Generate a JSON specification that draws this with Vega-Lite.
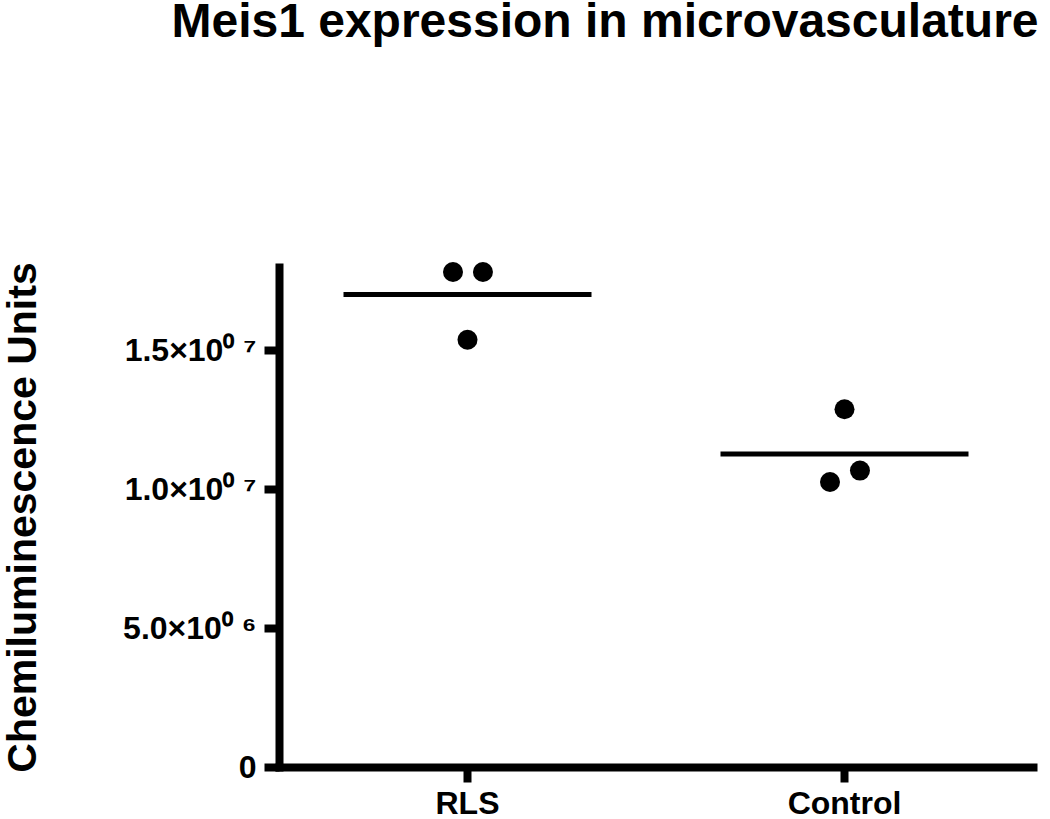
{
  "$schema": "https://vega.github.io/schema/vega-lite/v6.json",
  "width": 754,
  "height": 500,
  "autosize": {"type": "none"},
  "padding": {"left": 279, "top": 267, "right": 17, "bottom": 52},
  "background": "white",
  "title": {
    "text": "Meis1 expression in microvasculature",
    "font": "Liberation Sans",
    "fontSize": 48,
    "fontWeight": "bold",
    "color": "black",
    "anchor": "middle",
    "frame": "group",
    "baseline": "alphabetic",
    "offset": 177,
    "dx": -51
  },
  "config": {
    "view": {"stroke": null},
    "font": "Liberation Sans",
    "axis": {
      "grid": false,
      "domainColor": "black",
      "domainWidth": 8,
      "domainCap": "square",
      "tickColor": "black",
      "tickWidth": 8,
      "tickSize": 15,
      "labelColor": "black",
      "labelFont": "Liberation Sans",
      "labelFontSize": 32,
      "labelFontWeight": "bold",
      "titleColor": "black",
      "titleFont": "Liberation Sans",
      "titleFontWeight": "bold"
    }
  },
  "data": {
    "values": [
      {"group": "RLS", "value": 17820000, "jitter": -0.077},
      {"group": "RLS", "value": 17820000, "jitter": 0.082},
      {"group": "RLS", "value": 15380000, "jitter": 0.0},
      {"group": "Control", "value": 12880000, "jitter": 0.0},
      {"group": "Control", "value": 10260000, "jitter": -0.077},
      {"group": "Control", "value": 10670000, "jitter": 0.082}
    ]
  },
  "encoding": {
    "x": {
      "field": "group",
      "type": "nominal",
      "sort": ["RLS", "Control"],
      "scale": {"type": "band", "paddingInner": 0, "paddingOuter": 0},
      "axis": {"title": null, "labelAngle": 0, "labelPadding": 6}
    }
  },
  "layer": [
    {
      "mark": {"type": "point", "filled": true, "shape": "circle", "size": 400, "color": "black", "opacity": 1},
      "encoding": {
        "xOffset": {"field": "jitter", "type": "quantitative", "scale": {"domain": [-1, 1], "nice": false, "zero": false}},
        "y": {
          "field": "value",
          "type": "quantitative",
          "scale": {"domain": [0, 18000000], "nice": false},
          "axis": {
            "title": "Chemiluminescence Units",
            "titleFontSize": 41,
            "titlePadding": 78,
            "values": [0, 5000000, 10000000, 15000000],
            "labelPadding": 8,
            "labelExpr": "datum.value == 0 ? '0' : datum.value == 5000000 ? '5.0×10⁰ ⁶' : datum.value == 10000000 ? '1.0×10⁰ ⁷' : '1.5×10⁰ ⁷'"
          }
        }
      }
    },
    {
      "mark": {"type": "tick", "color": "black", "size": 248, "thickness": 5, "opacity": 1},
      "encoding": {
        "y": {"aggregate": "mean", "field": "value", "type": "quantitative"}
      }
    }
  ]
}
